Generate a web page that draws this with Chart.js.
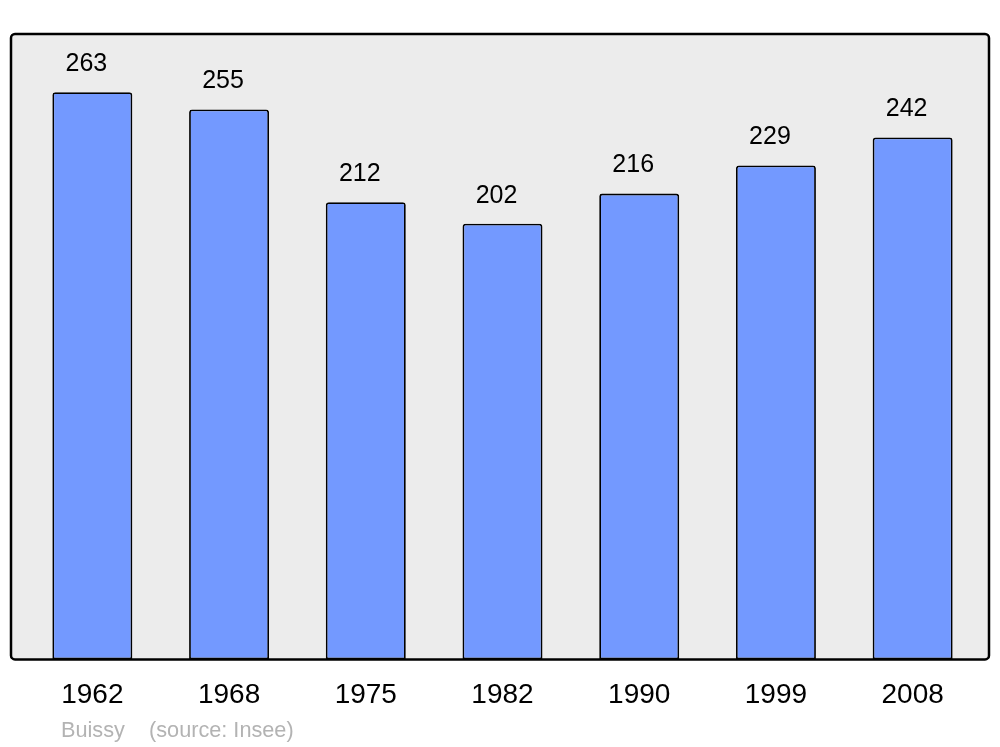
<html>
  <head>
    <title>Population Buissy</title>
    <style>
      body { margin: 0; background: #ffffff; }
      #wrap { width: 1000px; height: 747px; position: relative; }
    </style>
  </head>
  <body>
    <div id="wrap"><canvas id="chart"></canvas></div>

    <script src="https://cdn.jsdelivr.net/npm/chart.js@4"></script>
    <script type="text/javascript">
      const years = ['1962', '1968', '1975', '1982', '1990', '1999', '2008'];
      const population = [263, 255, 212, 202, 216, 229, 242];
      const yMax = 290;
      const commune = 'Buissy';
      const source = '(source: Insee)';

      const fontFamily = '"Liberation Sans", Arial, sans-serif';

      // grey panel behind bars, frame drawn after bars
      const panel = {
        id: 'panel',
        beforeDatasetsDraw(chart) {
          const { ctx, chartArea: a } = chart;
          ctx.save();
          ctx.fillStyle = '#ececec';
          ctx.beginPath();
          ctx.roundRect(a.left - 13, a.top, a.right - a.left + 21, a.bottom - a.top, 4);
          ctx.fill();
          ctx.restore();
        },
        afterDatasetsDraw(chart) {
          const { ctx, chartArea: a } = chart;
          ctx.save();
          ctx.strokeStyle = '#000000';
          ctx.lineWidth = 2.5;
          ctx.beginPath();
          ctx.roundRect(a.left - 13, a.top, a.right - a.left + 21, a.bottom - a.top, 4);
          ctx.stroke();

          // values above bars
          ctx.fillStyle = '#000000';
          ctx.font = '25px ' + fontFamily;
          ctx.textAlign = 'center';
          ctx.textBaseline = 'middle';
          chart.getDatasetMeta(0).data.forEach((bar, i) => {
            ctx.fillText(String(population[i]), bar.x - 6, bar.y - 28);
          });

          // footer
          ctx.fillStyle = '#b3b3b3';
          ctx.font = '21.7px ' + fontFamily;
          ctx.textAlign = 'left';
          ctx.textBaseline = 'alphabetic';
          ctx.fillText(commune, 61, 737);
          ctx.fillText(source, 149, 737);
          ctx.restore();
        },
      };

      new Chart(document.getElementById('chart'), {
        type: 'bar',
        data: {
          labels: years,
          datasets: [
            {
              data: population,
              backgroundColor: '#7399ff',
              borderColor: '#000000',
              borderWidth: 1.8,
              borderSkipped: false,
              borderRadius: { topLeft: 3, topRight: 3 },
              barPercentage: 0.585,
              categoryPercentage: 1,
            },
          ],
        },
        options: {
          animation: false,
          responsive: true,
          maintainAspectRatio: false,
          layout: { padding: { left: 24, right: 19, top: 34, bottom: 16 } },
          plugins: {
            legend: { display: false },
            tooltip: { enabled: false },
          },
          scales: {
            x: {
              grid: { display: false, drawTicks: false, tickLength: 0 },
              border: { display: false },
              ticks: {
                color: '#000000',
                padding: 19,
                font: { family: fontFamily, size: 28 },
              },
            },
            y: {
              display: false,
              min: 0,
              max: yMax,
            },
          },
        },
        plugins: [panel],
      });
    </script>
  </body>
</html>
